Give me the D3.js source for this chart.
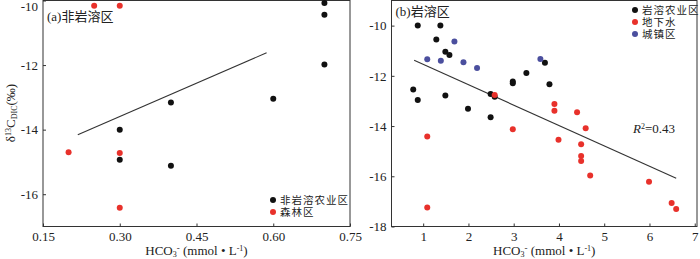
<!DOCTYPE html>
<html>
<head>
<meta charset="utf-8">
<script src="https://cdn.jsdelivr.net/npm/d3@7"></script>
<style>
  body { margin: 0; background: #fff; }
  svg { display: block; }
  text { font-family: "Liberation Serif", "Times New Roman", serif; fill: #222; }
  .cjk { font-family: "Noto Sans CJK SC", sans-serif; }
</style>
</head>
<body>
<svg id="chart"></svg>
<script>
// (a) non-karst area
const nonKarstAgri = [[0.70, -10.08], [0.70, -10.44], [0.70, -11.98], [0.40, -13.16], [0.60, -13.04],
  [0.30, -14.0], [0.30, -14.93], [0.40, -15.12]];
const forest = [[0.25, -10.16], [0.30, -10.16], [0.20, -14.70], [0.30, -14.72], [0.30, -16.42]];
const fitA = [[0.218, -14.16], [0.587, -11.62]];

// (b) karst area
const karstAgri = [[0.88, -10.0], [1.38, -10.0], [1.29, -10.55], [1.49, -11.04], [1.58, -11.17],
  [0.78, -12.54], [0.88, -12.96], [1.49, -12.78], [1.99, -13.31], [2.49, -12.72], [2.58, -12.83],
  [2.49, -13.65], [2.98, -12.23], [2.98, -12.30], [3.28, -11.89], [3.69, -11.48], [3.79, -12.34]];
const groundwater = [[2.58, -12.76], [3.90, -13.12], [3.90, -13.39], [4.40, -13.45], [4.59, -14.09],
  [2.98, -14.13], [1.09, -14.42], [1.09, -17.24], [3.99, -14.55], [4.49, -14.72], [4.49, -15.19],
  [4.49, -15.39], [4.69, -15.97], [5.99, -16.22], [6.49, -17.06], [6.59, -17.30]];
const urban = [[1.09, -11.34], [1.39, -11.40], [1.69, -10.63], [1.89, -11.46], [2.19, -11.69], [3.59, -11.33]];
const fitB = [[0.80, -11.38], [6.59, -16.08]];

const ticksAX = [0.15, 0.30, 0.45, 0.60, 0.75];
const ticksAY = [-10, -12, -14, -16];
const ticksBX = [1, 2, 3, 4, 5, 6, 7];
const ticksBY = [-10, -12, -14, -16, -18];

const colors = { black: "#111", red: "#e8312b", blue: "#4b4f9e" };

const svg = d3.select("#chart").attr("width", 700).attr("height", 259);

function panel(cfg) {
  const x = d3.scaleLinear().domain(cfg.xDomain).range([cfg.left, cfg.right]);
  const y = d3.scaleLinear().domain(cfg.yDomain).range([226.5, 0.5]);
  const g = svg.append("g");

  // frame
  g.append("rect")
    .attr("x", cfg.left).attr("y", 0.5)
    .attr("width", cfg.right - cfg.left).attr("height", 226)
    .attr("fill", "none").attr("stroke", "#333").attr("stroke-width", 1);

  const xAxis = g.append("g")
    .attr("transform", `translate(0,226.5)`)
    .call(d3.axisBottom(x).tickValues(cfg.xTicks).tickSize(-3).tickSizeOuter(0)
      .tickPadding(5).tickFormat(cfg.xFormat));
  const yAxis = g.append("g")
    .attr("transform", `translate(${cfg.left},0)`)
    .call(d3.axisLeft(y).tickValues(cfg.yTicks).tickSize(-3).tickSizeOuter(0)
      .tickPadding(5).tickFormat(d => String(d)));
  [xAxis, yAxis].forEach(a => {
    a.select(".domain").remove();
    a.selectAll("line").attr("stroke", "#333");
    a.selectAll("text").attr("font-size", 13).attr("fill", "#222")
      .style("font-family", '"Liberation Serif", serif');
  });
  // keep the top tick label inside the picture
  yAxis.selectAll(".tick text").filter(d => d === cfg.yTicks[0] && y(d) < 4).attr("y", 6 - y(cfg.yTicks[0]));

  // fit line
  g.append("line")
    .attr("x1", x(cfg.fit[0][0])).attr("y1", y(cfg.fit[0][1]))
    .attr("x2", x(cfg.fit[1][0])).attr("y2", y(cfg.fit[1][1]))
    .attr("stroke", "#333").attr("stroke-width", 1.1);

  cfg.series.forEach(s => {
    g.selectAll(null).data(s.data).join("circle")
      .attr("cx", d => x(d[0])).attr("cy", d => y(d[1]))
      .attr("r", 3).attr("fill", s.color);
  });

  // panel title
  g.append("text").attr("class", "cjk")
    .attr("x", cfg.left + 4).attr("y", cfg.titleY)
    .attr("font-size", 13).attr("fill", "#333")
    .html(`<tspan style="font-family:'Liberation Serif',serif">${cfg.title[0]}</tspan>${cfg.title[1]}`);

  // legend
  cfg.series.forEach((s, i) => {
    const ly = cfg.legendY + i * 12;
    g.append("circle").attr("cx", cfg.legendX).attr("cy", ly).attr("r", 3).attr("fill", s.color);
    g.append("text").attr("class", "cjk")
      .attr("x", cfg.legendX + 7).attr("y", ly + 4)
      .attr("font-size", 10.5).attr("letter-spacing", 1).attr("fill", "#444")
      .text(s.name);
  });

  // x axis label
  const xl = g.append("text")
    .attr("x", (cfg.left + cfg.right) / 2).attr("y", 255)
    .attr("text-anchor", "middle").attr("font-size", 13);
  xl.append("tspan").text("HCO");
  xl.append("tspan").attr("font-size", 8).attr("baseline-shift", "-25%").text("3");
  xl.append("tspan").attr("font-size", 9).attr("baseline-shift", "45%").text("-");
  xl.append("tspan").text(" (mmol • L");
  xl.append("tspan").attr("font-size", 8).attr("baseline-shift", "45%").text("-1");
  xl.append("tspan").text(")");
  return { x, y, g };
}

const a = panel({
  left: 43, right: 350, xDomain: [0.15, 0.75], yDomain: [-17, -10],
  xTicks: ticksAX, yTicks: ticksAY, xFormat: d3.format(".2f"),
  fit: fitA, title: ["(a)", "非岩溶区"], titleY: 21,
  series: [
    { name: "非岩溶农业区", data: nonKarstAgri, color: colors.black },
    { name: "森林区", data: forest, color: colors.red }
  ],
  legendX: 273, legendY: 200
});

const b = panel({
  left: 391.5, right: 697, xDomain: [0.3, 7.05], yDomain: [-18, -9],
  xTicks: ticksBX, yTicks: ticksBY, xFormat: d => String(d),
  fit: fitB, title: ["(b)", "岩溶区"], titleY: 16,
  series: [
    { name: "岩溶农业区", data: karstAgri, color: colors.black },
    { name: "地下水", data: groundwater, color: colors.red },
    { name: "城镇区", data: urban, color: colors.blue }
  ],
  legendX: 635, legendY: 10
});

// R squared annotation
const r2 = b.g.append("text").attr("x", 633).attr("y", 133).attr("font-size", 13);
r2.append("tspan").attr("font-style", "italic").text("R");
r2.append("tspan").attr("font-size", 8).attr("baseline-shift", "45%").text("2");
r2.append("tspan").text("=0.43");

// y axis label (left panel)
const yl = svg.append("text")
  .attr("transform", "translate(15,113) rotate(-90)")
  .attr("text-anchor", "middle").attr("font-size", 13);
yl.append("tspan").text("δ");
yl.append("tspan").attr("font-size", 8).attr("baseline-shift", "45%").text("13");
yl.append("tspan").text("C");
yl.append("tspan").attr("font-size", 8).attr("baseline-shift", "-25%").text("DIC");
yl.append("tspan").text("(‰)");
</script>
</body>
</html>
